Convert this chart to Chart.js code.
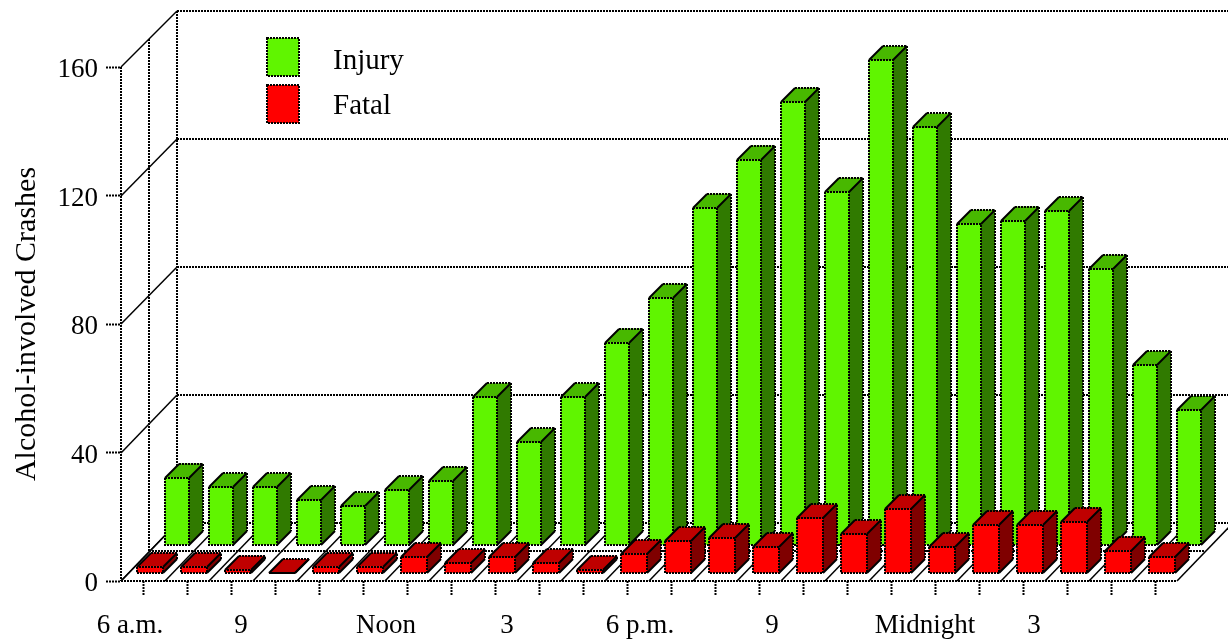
<!DOCTYPE html>
<html>
<head>
<meta charset="utf-8">
<title>Alcohol-involved Crashes</title>
<script src="https://cdn.jsdelivr.net/npm/chart.js@4/dist/chart.umd.min.js"></script>
<style>
  body { margin: 0; background: #fff; }
  canvas { display: block; }
</style>
</head>
<body>
<canvas id="chart" width="1228" height="641"></canvas>
<script>
const hourLabels = ["6 a.m.", "", "", "9", "", "", "Noon", "", "", "3", "", "", "6 p.m.", "", "", "9", "", "", "Midnight", "", "", "3", "", ""];
const injuryValues = [21, 18, 18, 14, 12, 17, 20, 46, 32, 46, 63, 77, 105, 120, 138, 110, 151, 130, 100, 101, 104, 86, 56, 42];
const fatalValues = [2, 2, 1, 0, 2, 2, 5, 3, 5, 3, 1, 6, 10, 11, 8, 17, 12, 20, 8, 15, 15, 16, 7, 5];
const yTicks = [0, 40, 80, 120, 160];

// the hour labels do not sit right under their tick in the original
const labelNudge = [-13, 0, 0, -34, 0, 0, -21, 0, 0, -32, 0, 0, -31, 0, 0, -31, 0, 0, -10, 0, 0, -33, 0, 0];

const FONT = "Liberation Serif";
const FONT_SIZE = 27;
const LINE = 2;
const DOTS = [2, 1];
const WALL_DX = 56;
const WALL_DY = 56;
const BAR_DEPTH = 14;

// rounded so the 2px dotted lines stay crisp
function strokePath(ctx, points, dash) {
  ctx.setLineDash(dash || []);
  ctx.beginPath();
  points.forEach(([x, y], i) => {
    if (i) {
      ctx.lineTo(Math.round(x), Math.round(y));
    } else {
      ctx.moveTo(Math.round(x), Math.round(y));
    }
  });
  ctx.stroke();
}

function fillFace(ctx, points, color) {
  ctx.fillStyle = color;
  ctx.beginPath();
  points.forEach(([x, y], i) => (i ? ctx.lineTo(x, y) : ctx.moveTo(x, y)));
  ctx.closePath();
  ctx.fill();
}

function drawWalls(chart) {
  const ctx = chart.ctx;
  const { x, y } = chart.scales;
  const left = x.left;
  const right = x.right;
  const floorY = y.getPixelForValue(0);
  const topY = y.getPixelForValue(160);
  const cell = (right - left) / hourLabels.length;

  ctx.save();
  ctx.strokeStyle = "#000";
  ctx.lineWidth = LINE;

  // back wall and left wall
  yTicks.forEach((tick) => {
    const py = y.getPixelForValue(tick);
    const backY = py - WALL_DY - 2 * (1 - tick / 160);
    strokePath(ctx, [[left + WALL_DX, backY], [right + WALL_DX, backY]], DOTS);
    ctx.lineWidth = 1.5;
    strokePath(ctx, [[left, py], [left + WALL_DX, backY]]);
    ctx.lineWidth = LINE;
  });
  strokePath(ctx, [[left, topY], [left, floorY]], DOTS);
  strokePath(ctx, [[left + WALL_DX / 2, topY - WALL_DY / 2], [left + WALL_DX / 2, floorY - 30]], DOTS);
  strokePath(ctx, [[left + WALL_DX, topY - WALL_DY], [left + WALL_DX, floorY - WALL_DY - 2]], DOTS);

  // floor tiles
  strokePath(ctx, [[left, floorY], [right, floorY]], DOTS);
  strokePath(ctx, [[left + WALL_DX / 2, floorY - 30], [right + WALL_DX / 2, floorY - 30]], DOTS);
  ctx.lineWidth = 1.5;
  for (let i = 0; i <= hourLabels.length; i++) {
    const px = left + i * cell;
    strokePath(ctx, [[px, floorY], [px + WALL_DX, floorY - WALL_DY - 2]]);
  }
  ctx.restore();
}

function drawBarBoxes(chart, meta) {
  const ctx = chart.ctx;
  const ds = meta.controller.getDataset();
  const d = BAR_DEPTH;

  ctx.lineWidth = LINE;
  ctx.strokeStyle = "#000";
  meta.data.forEach((bar) => {
    const { x, y, base, width } = bar.getProps(["x", "y", "base", "width"], true);
    const l = x - width / 2;
    const r = x + width / 2;

    fillFace(ctx, [[r, y], [r + d, y - d], [r + d, base - d], [r, base]], ds.sideColor);
    fillFace(ctx, [[l, y], [l + d, y - d], [r + d, y - d], [r, y]], ds.topColor);

    strokePath(ctx, [[l, y], [l, base], [r, base], [r, y], [l, y]], DOTS);
    strokePath(ctx, [[l + d, y - d], [r + d, y - d], [r + d, base - d]], DOTS);
    strokePath(ctx, [[l, y], [l + d, y - d]]);
    strokePath(ctx, [[r, y], [r + d, y - d]]);
    strokePath(ctx, [[r, base], [r + d, base - d]]);
  });
}

function drawTickLabels(chart) {
  const ctx = chart.ctx;
  const { x, y } = chart.scales;
  ctx.save();
  ctx.fillStyle = "#000";
  ctx.font = FONT_SIZE + "px '" + FONT + "'";

  ctx.textAlign = "center";
  ctx.textBaseline = "alphabetic";
  hourLabels.forEach((label, i) => {
    if (label) {
      ctx.fillText(label, x.getPixelForTick(i) + labelNudge[i], y.bottom + 52);
    }
  });

  // sit a little below their tick marks, which the scale cannot do by itself
  ctx.textAlign = "right";
  ctx.textBaseline = "middle";
  y.ticks.forEach((tick, i) => {
    ctx.fillText(String(tick.label), y.right - 23, y.getPixelForTick(i) + 3);
  });
  ctx.restore();
}

function drawKey(chart) {
  const ctx = chart.ctx;
  const rows = [
    { set: chart.data.datasets[0], top: 38, textY: 69 },
    { set: chart.data.datasets[1], top: 85, textY: 114 },
  ];
  ctx.save();
  ctx.font = "29px '" + FONT + "'";
  ctx.textAlign = "left";
  ctx.textBaseline = "alphabetic";
  ctx.lineWidth = LINE;
  ctx.strokeStyle = "#000";
  rows.forEach(({ set, top, textY }) => {
    ctx.fillStyle = set.backgroundColor;
    ctx.fillRect(267, top, 32, 38);
    ctx.setLineDash(DOTS);
    ctx.strokeRect(267, top, 32, 38);
    ctx.fillStyle = "#000";
    ctx.fillText(set.label, 333, textY);
  });
  ctx.restore();
}

const boxes3d = {
  id: "boxes3d",
  beforeDatasetsDraw(chart) {
    drawWalls(chart);
  },
  beforeDatasetDraw(chart, args) {
    const ds = chart.data.datasets[args.index];
    chart.ctx.save();
    chart.ctx.translate(ds.shiftX, -ds.shiftY);
  },
  afterDatasetDraw(chart, args) {
    chart.ctx.save();
    drawBarBoxes(chart, args.meta);
    chart.ctx.restore();
    chart.ctx.restore();
  },
  afterDraw(chart) {
    drawTickLabels(chart);
    drawKey(chart);
  },
};

new Chart(document.getElementById("chart"), {
  type: "bar",
  plugins: [boxes3d],
  data: {
    labels: hourLabels,
    datasets: [
      {
        label: "Injury",
        data: injuryValues,
        backgroundColor: "#60f500",
        topColor: "#48b800",
        sideColor: "#307a00",
        barThickness: 24,
        shiftX: 34,
        shiftY: 36,
        order: 2,
        clip: false,
      },
      {
        label: "Fatal",
        data: fatalValues,
        backgroundColor: "#ff0000",
        topColor: "#bf0000",
        sideColor: "#7f0000",
        barThickness: 26,
        shiftX: 7,
        shiftY: 8,
        order: 1,
        clip: false,
      },
    ],
  },
  options: {
    responsive: false,
    animation: false,
    layout: { padding: { top: 67, right: 51, left: 0, bottom: 0 } },
    plugins: {
      legend: { display: false },
      tooltip: { enabled: false },
    },
    scales: {
      x: {
        offset: true,
        grid: {
          offset: false,
          drawOnChartArea: false,
          tickLength: 15,
          tickWidth: LINE,
          tickColor: "#000",
          tickBorderDash: DOTS,
        },
        border: { display: false },
        ticks: { display: false, autoSkip: false, maxRotation: 0 },
        afterFit(scale) {
          scale.height = 60;
        },
      },
      y: {
        min: 0,
        max: 160,
        afterBuildTicks(scale) {
          scale.ticks = yTicks.map((value) => ({ value }));
        },
        grid: {
          drawOnChartArea: false,
          tickLength: 15,
          tickWidth: LINE,
          tickColor: "#000",
          tickBorderDash: DOTS,
        },
        border: { display: false },
        ticks: { display: false },
        title: {
          display: true,
          text: "Alcohol-involved Crashes",
          color: "#000",
          padding: { top: 9, bottom: 0 },
          font: { family: FONT, size: 30 },
        },
        afterFit(scale) {
          scale.width = 121;
        },
      },
    },
    datasets: { bar: { grouped: false } },
  },
});
</script>
</body>
</html>
